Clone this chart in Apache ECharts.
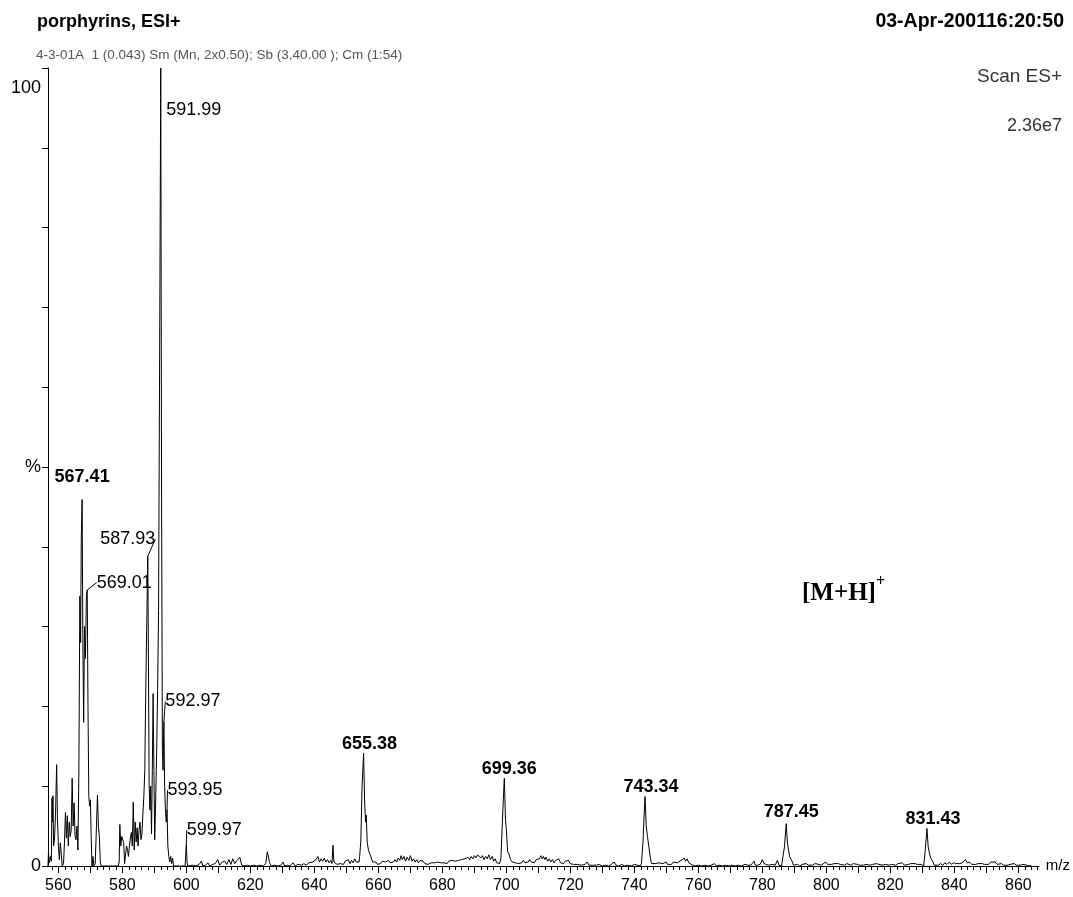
<!DOCTYPE html>
<html>
<head>
<meta charset="utf-8">
<script src="https://cdn.jsdelivr.net/npm/echarts@6/dist/echarts.min.js"></script>
<style>html,body{margin:0;padding:0;background:#fff}#c{width:1073px;height:897px}</style>
</head>
<body>
<div id="c"></div>
<script>
// ---- data (m/z, relative intensity %) ----
const regionA = [[556.75,0],[556.9,1.7],[557.2,0.4],[557.5,1.2],[557.8,0.6],[558.0,8.5],[558.15,5.5],[558.3,8.8],[558.5,2.5],[558.8,3.5],[559.1,6.5],[559.45,12.7],[559.7,6],[560.0,2.5],[560.3,0.8],[560.6,2.9],[560.9,1.5],[561.2,0],[561.6,0.3],[561.9,3],[562.2,6.7],[562.5,3.5],[562.8,6.3],[563.1,2.5],[563.4,5.5],[563.7,3.7],[564.0,4.5],[564.3,11.0],[564.6,5],[564.9,7.9],[565.2,3.8],[565.5,3.3],[565.8,5],[566.1,2],[566.4,12],[566.7,33.8],[566.95,28],[567.15,41],[567.41,45.9],[567.65,28],[567.9,18],[568.15,30],[568.45,26],[568.75,34],[569.01,34.6],[569.25,20],[569.5,8.7],[569.75,7.5],[570.0,8.3],[570.25,3.7],[570.5,0],[570.8,1.2],[571.1,0],[571.5,0.3],[571.9,5],[572.2,8.9],[572.5,5],[572.8,3.7],[573.1,0.5],[573.4,0],[578.7,0],[579.0,0.5],[579.2,5.2],[579.5,2.5],[579.8,3.7],[580.1,3.5],[580.4,2.9],[580.7,0.3],[581.0,1.5],[581.3,2.5],[581.6,2.0],[581.9,1.2],[582.2,2.5],[582.5,3.5],[582.8,4.2],[583.1,2.5],[583.4,8.0],[583.7,2.0],[584.0,5.5],[584.3,3.0],[584.6,4.8],[584.9,2.5],[585.2,4.5],[585.5,5.5],[585.8,3.3],[586.1,4],[586.4,6.5],[586.7,8.7],[587.0,12],[587.3,22],[587.6,30],[587.93,38.8],[588.15,25],[588.35,10.4],[588.6,7],[588.85,10],[589.1,4],[589.35,12],[589.6,21.6],[589.85,12],[590.1,3.3],[590.4,8.3],[590.7,14],[591.0,22],[591.3,32],[591.6,60],[591.99,100],[592.25,45],[592.5,14.5],[592.7,12],[592.97,18.1],[593.2,10],[593.45,7.1],[593.7,5.5],[593.95,7.1],[594.2,2.5],[594.5,1.2],[594.8,0.5],[595.1,1.2],[595.4,0.3],[595.7,1.0],[596.0,0],[599.6,0],[599.8,1.5],[599.97,2.7],[600.2,0.5],[600.4,0]];

const regionB = [[601,0],[602,0.1],[603,0],[604,0.2],[604.7,0.6],[605.2,0],[606,0.1],[606.7,0.4],[607.3,0],[608.2,0.2],[609,0.3],[609.8,0.8],[610.4,0.1],[611.2,0.5],[612,0.6],[612.6,0.2],[613.3,0.8],[613.9,0.2],[614.5,0.9],[615.1,0.3],[615.8,0.7],[616.7,1.1],[617.3,0.1],[618,0],[619,0.1],[620,0],[621,0.1],[622,0],[623,0.1],[624,0],[624.8,0.3],[625.3,1.8],[625.6,2.0],[626,0.4],[626.5,0],[627.5,0.1],[628.5,0],[629.5,0.1],[630.2,0.5],[630.7,0],[631.5,0.1],[632.3,0],[633.3,0.4],[634,0],[634.8,0.2],[635.4,0.3],[636,0.1],[636.7,0.3],[637.5,0.1],[638.2,0.4],[638.8,0.2],[639.5,0.5],[640,0.3],[640.5,0.8],[641.1,1.2],[641.6,0.5],[642.1,0.9],[642.6,0.6],[643.1,1.0],[643.6,0.5],[644.1,0.8],[644.6,0.4],[645.1,0.7],[645.5,0.3],[645.8,2.6],[646.1,0.5],[646.6,0.6],[647.1,0.2],[647.6,0.4],[648.1,0.3],[648.6,0.5],[649.1,0.2],[649.6,0.6],[650.1,0.4],[650.6,0.8],[651.1,0.3],[651.6,0.7],[652.1,0.4],[652.6,0.9],[653.1,0.5],[653.6,0.6],[654.0,0.5],[654.5,3],[654.9,10],[655.38,14.1],[655.7,8],[656.0,5.5],[656.2,6.4],[656.5,3],[656.9,2],[657.3,1.8],[657.8,1.0],[658.2,0.5],[658.7,0.3],[659.2,0.5],[659.7,0.2],[660.2,0.4],[660.7,0.3],[661.2,0.6],[661.7,0.4],[662.2,0.5],[662.7,0.3],[663.2,0.7],[663.7,0.4],[664.2,0.6],[664.7,0.5],[665.2,0.8],[665.7,0.5],[666.2,1.0],[666.7,0.7],[667.1,1.3],[667.5,0.8],[668.0,1.2],[668.5,0.6],[669.0,1.1],[669.5,0.7],[670.0,1.3],[670.5,0.6],[671.0,0.9],[671.5,0.5],[672.0,0.8],[672.5,0.4],[673.0,0.7],[673.5,0.5],[674.0,0.6],[674.5,0.3],[675,0.4],[675.5,0.2],[676,0.3],[676.5,0.4],[677,0.2],[677.5,0.4],[678,0.3],[678.5,0.5],[679,0.3],[679.5,0.4],[680,0.6],[680.5,0.4],[681,0.5],[681.5,0.3],[682,0.6],[682.5,0.4],[683,0.7],[683.5,0.5],[684,0.6],[684.5,0.4],[685,0.7],[685.5,0.5],[686,0.8],[686.5,0.6],[687,0.9],[687.5,0.7],[688,1.1],[688.5,0.8],[689,1.2],[689.5,0.9],[690,1.3],[690.5,1.0],[691,1.4],[691.6,1.6],[692,1.0],[692.5,1.3],[693,0.8],[693.5,1.2],[694,0.9],[694.5,1.4],[695,0.8],[695.6,1.2],[696,0.6],[696.5,0.9],[697,0.4],[697.5,0.5],[697.9,0.3],[698.3,1],[698.7,5],[699.0,8],[699.36,11],[699.7,6],[700.0,4.5],[700.4,1.8],[700.8,1.5],[701.3,0.8]];

const regionC = [[701.8,0.5],[702.3,0.7],[702.8,0.4],[703.3,0.6],[703.8,0.3],[704.3,0.5],[704.8,0.4],[705.3,0.7],[705.8,0.4],[706.3,0.6],[706.8,0.5],[707.3,0.8],[707.8,0.5],[708.3,0.7],[708.8,0.4],[709.3,0.8],[709.8,0.6],[710.3,0.9],[710.8,1.3],[711.2,0.9],[711.6,1.2],[712,0.8],[712.4,1.1],[712.9,0.6],[713.4,0.9],[713.9,0.5],[714.4,0.8],[714.9,0.4],[715.4,0.7],[715.9,0.5],[716.4,0.9],[716.9,0.4],[717.4,0.6],[717.9,0.3],[718.4,0.6],[718.9,0.4],[719.4,0.7],[719.9,0.3],[720.4,0.5],[721,0.2],[721.6,0.4],[722.2,0.2],[722.8,0.3],[723.4,0.1],[724,0.3],[724.6,0.2],[725.2,0.5],[725.8,0.1],[726.4,0.3],[727,0.1],[727.6,0.3],[728.2,0.1],[729,0.2],[730,0],[731,0.1],[732,0],[732.8,0.2],[733.7,0.5],[734.3,0.1],[735,0],[736,0.2],[737,0],[738,0.1],[739,0],[740,0.2],[741,0.1],[741.8,0],[742.2,0.3],[742.7,3],[743.0,6],[743.34,8.7],[743.7,5],[744.1,3.7],[744.5,2.5],[745.0,1],[745.4,0.3],[745.9,0.1],[746.5,0.3],[747.1,0.1],[747.7,0.4],[748.3,0.2],[748.9,0.3],[749.5,0.1],[749.9,0.5],[750.4,0.2],[751,0.4],[751.6,0.2],[752.2,0.5],[752.8,0.3],[753.4,0.4],[754,0.2],[754.6,0.7],[755.2,0.5],[755.6,1.0],[756,0.6],[756.5,0.9],[757,0.4],[757.5,0.2],[758.3,0.1],[759,0],[760,0.1],[761,0],[762,0.1],[763,0],[764,0.1],[765,0.3],[765.6,0],[766.5,0.1],[767.5,0],[768.5,0.1],[769.5,0],[770.5,0.1],[771.5,0],[772.5,0.1],[773.5,0],[774.5,0.2],[775.5,0.1],[776.4,0.1],[777,0.3],[777.4,0.6],[777.8,0.1],[778.5,0.1],[779.3,0.2],[780,0.8],[780.5,0.3],[781.2,0.2],[782,0.1],[783,0.2],[784,0.1],[784.7,0.7],[785.2,0.1],[786,0],[786.5,0],[786.9,2.4],[787.2,4],[787.45,5.3],[787.8,3],[788.1,2.2],[788.5,1.2],[789,0.8],[789.4,0.5],[789.7,0.1],[790.3,0.1],[791,0.2],[791.7,0],[792.4,0.2],[793,0.1],[793.7,0.3],[794.4,0.1],[795,0.2],[795.7,0.1],[796.4,0.3],[797,0.1],[797.7,0.2],[798.4,0.1],[799,0.3],[799.8,0.5],[800.4,0.2],[801,0.4],[801.7,0.2],[802.4,0.3],[803,0.1],[803.7,0.3],[804.4,0.2],[805,0.3],[805.7,0.1],[806.4,0.3],[807,0.2],[807.7,0.1],[808.4,0.3],[809,0.1],[809.7,0.2],[810.4,0.1],[811,0.3],[811.7,0.1],[812.4,0.2],[813,0.3],[813.7,0.1],[814.4,0.2],[815,0.1],[815.7,0.3],[816.4,0.2],[817,0.3],[817.7,0.1],[818.4,0.2],[819,0.4],[819.7,0.1],[820.4,0.2],[821,0.3],[821.7,0.1],[822.4,0.3],[823,0.2],[823.7,0.4],[824.4,0.1],[825,0.3],[825.7,0.2],[826.4,0.3],[827,0.1],[827.7,0.3],[828.4,0.2],[829,0.4],[829.7,0.2],[830.4,0],[830.8,1.5],[831.1,3],[831.43,4.7],[831.8,2.5],[832.2,1.6],[832.7,0.9],[833.2,0.6],[833.7,0.1],[834.3,0.2],[835,0.1],[835.7,0.3],[836.4,0.1],[837,0.4],[837.7,0.2],[838.4,0.5],[839,0.2],[839.7,0.4],[840.4,0.3],[841,0.5],[841.7,0.3],[842.4,0.4],[843,0.6],[843.5,0.8],[844,0.4],[844.7,0.5],[845.4,0.2],[846,0.4],[846.7,0.2],[847.4,0.3],[848,0.1],[848.7,0.3],[849.4,0.2],[850,0.4],[850.7,0.2],[851.4,0.5],[852,0.3],[852.7,0.5],[853.4,0.2],[854,0.4],[854.7,0.3],[855.4,0.1],[856,0.3],[856.7,0.1],[857.4,0.2],[858,0.1],[858.7,0.3],[859.4,0.1],[860,0.2],[860.7,0.1],[861.4,0.2],[862,0],[862.7,0.1],[863.4,0],[864,0.1]];

const peakMz        = [567.41, 569.01, 587.93, 591.99, 592.97, 593.95, 599.97, 655.38, 699.36, 743.34, 787.45, 831.43];
const peakIntensity = [45.9,   34.6,   38.8,   100,    18.1,   7.1,    2.7,    14.1,   11,     8.7,    5.3,    4.7];
const peakText      = ['567.41','569.01','587.93','591.99','592.97','593.95','599.97','655.38','699.36','743.34','787.45','831.43'];

const xTickLabels = [560, 580, 600, 620, 640, 660, 680, 700, 720, 740, 760, 780, 800, 820, 840, 860];
const yTickLabels = {0: '0', 50: '%', 100: '100'};

// ---- presentation ----
const boldPeak   = [true, false, false, false, false, false, false, true, true, true, true, true];
const leaderLine = [false, true, true, false, true, true, true, false, false, false, false, false];
const labelShift = [[0,-13],[37,2],[-20,-8],[33,51],[29,-11],[28,-10],[28,-5],[6,0],[5,0],[6,0],[5,-2],[6,0]];

const FONT = "'Liberation Sans', Arial, Helvetica, sans-serif";
const SERIF = "'Liberation Serif', 'Times New Roman', serif";

const majorTicks = [];
for (let v = 560; v <= 860; v += 10) majorTicks.push(v);
const minorTicks = [];
for (let v = 558; v <= 866; v += 2) if (v % 10 !== 0) minorTicks.push(v);
const yTicks = [];
for (let v = 0; v <= 100; v += 10) yTicks.push(v);

const spectrum = regionA.concat(regionB, regionC);

const chart = echarts.init(document.getElementById('c'), null, {renderer: 'canvas'});
chart.setOption({
  animation: false,
  backgroundColor: '#fff',
  title: [
    {text: 'porphyrins, ESI+', left: 37, top: 13, padding: 0,
     textStyle: {fontFamily: FONT, fontWeight: 'bold', fontSize: 18, color: '#000'}},
    {text: '4-3-01A  1 (0.043) Sm (Mn, 2x0.50); Sb (3,40.00 ); Cm (1:54)', left: 36, top: 48, padding: 0,
     textStyle: {fontFamily: FONT, fontWeight: 'normal', fontSize: 13.5, color: '#555'}},
    {text: '03-Apr-200116:20:50', right: 9, top: 12, padding: 0,
     textStyle: {fontFamily: FONT, fontWeight: 'bold', fontSize: 19.5, color: '#000'}},
    {text: 'Scan ES+', right: 11, top: 67, padding: 0,
     textStyle: {fontFamily: FONT, fontWeight: 'normal', fontSize: 19, color: '#333'}},
    {text: '2.36e7', right: 11, top: 117, padding: 0,
     textStyle: {fontFamily: FONT, fontWeight: 'normal', fontSize: 18, color: '#333'}},
    {text: '{a|[M+H]}{b|+}', left: 802, top: 574, padding: 0,
     textStyle: {rich: {
       a: {fontFamily: SERIF, fontWeight: 'bold', fontSize: 25, color: '#000', lineHeight: 32, verticalAlign: 'bottom'},
       b: {fontFamily: SERIF, fontWeight: 'bold', fontSize: 16, color: '#000', lineHeight: 16, verticalAlign: 'top'}
     }}}
  ],
  grid: {left: 48, right: 33, top: 68, bottom: 31},
  xAxis: [
    {type: 'value', min: 556.75, max: 866.4, splitLine: {show: false},
     name: 'm/z', nameLocation: 'end', nameGap: 7,
     nameTextStyle: {fontFamily: FONT, fontSize: 15, color: '#000', verticalAlign: 'middle'},
     axisLine: {lineStyle: {color: '#000', width: 1}},
     axisTick: {customValues: majorTicks, length: 7, lineStyle: {color: '#000', width: 1}},
     axisLabel: {customValues: xTickLabels, margin: 12, fontFamily: FONT, fontSize: 16, color: '#000'}},
    {type: 'value', min: 556.75, max: 866.4, position: 'bottom', splitLine: {show: false},
     axisLine: {show: false},
     axisTick: {customValues: minorTicks, length: 4, lineStyle: {color: '#000', width: 1}},
     axisLabel: {show: false}}
  ],
  yAxis: {type: 'value', min: 0, max: 100, splitLine: {show: false},
    axisLine: {show: true, lineStyle: {color: '#000', width: 1}},
    axisTick: {show: true, customValues: yTicks, length: 6, lineStyle: {color: '#000', width: 1}},
    axisLabel: {customValues: [0, 50, 100], margin: 7, fontFamily: FONT, fontSize: 18, color: '#000',
      formatter: v => v === 100 ? '{low|100}' : yTickLabels[v],
      rich: {low: {fontFamily: FONT, fontSize: 18, color: '#000', padding: [40, 0, 0, 0]}}}
  },
  series: [
    {type: 'line', data: spectrum, showSymbol: false, symbol: 'none', xAxisIndex: 0,
     lineStyle: {color: '#000', width: 1}, z: 3, silent: true},
    {type: 'scatter', xAxisIndex: 0, symbolSize: 0.5, z: 5, silent: true,
     itemStyle: {color: '#000', opacity: 1},
     emphasis: {disabled: true},
     data: peakMz.map((m, i) => ({
       value: [m, peakIntensity[i]], name: peakText[i],
       label: {fontWeight: boldPeak[i] ? 'bold' : 'normal'},
       labelLine: {show: leaderLine[i]}
     })),
     label: {show: true, position: 'top', distance: 0, formatter: p => p.name,
       fontFamily: FONT, fontSize: 18, color: '#000', opacity: 1, textBorderWidth: 0},
     labelLine: {show: false, length2: 0, lineStyle: {color: '#000', width: 1, opacity: 1}},
     labelLayout: p => ({dx: labelShift[p.dataIndex][0], dy: labelShift[p.dataIndex][1]})
    }
  ]
});
</script>
</body>
</html>
